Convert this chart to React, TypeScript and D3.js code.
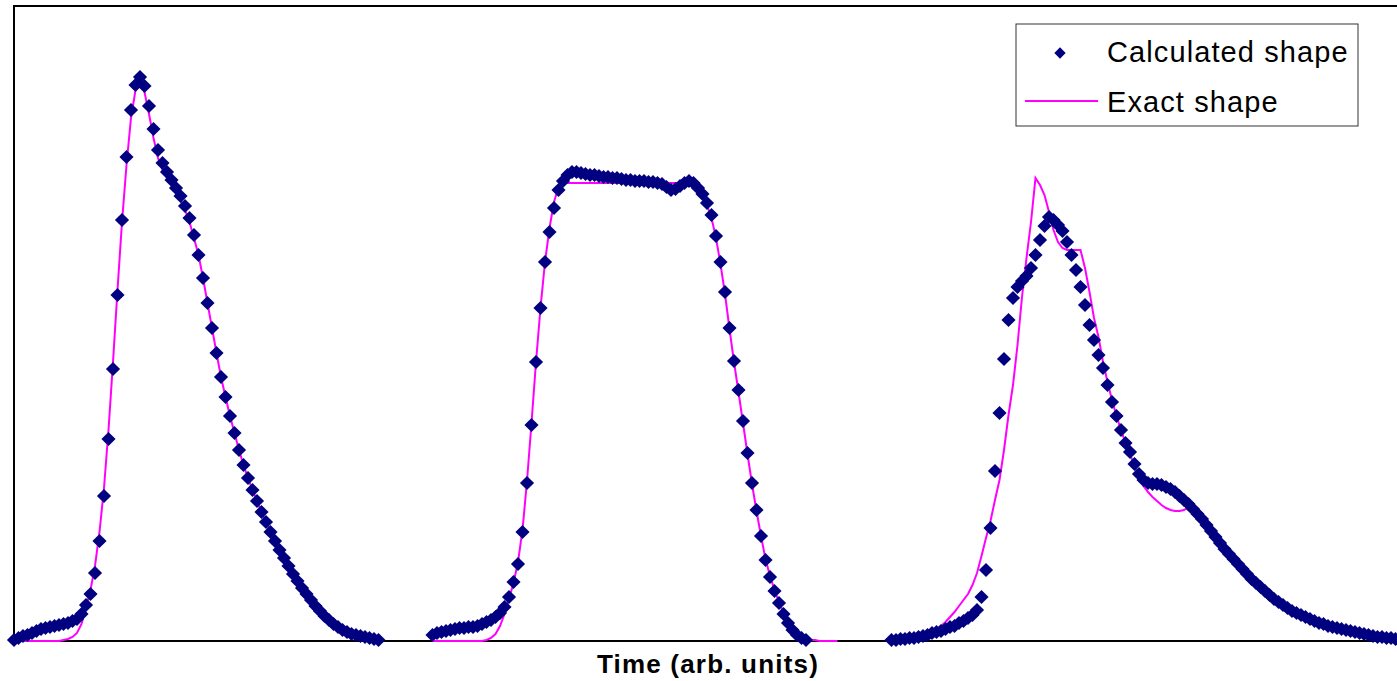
import React, { useEffect, useRef } from 'react';
import * as d3 from 'd3';

// sample index = time (arb. units); pulses separated by empty samples
const calc1Start = 0;
const calc1 = [
  0.01, 0.03, 0.05, 0.06, 0.08, 0.10, 0.12, 0.13, 0.14, 0.15, 0.16, 0.17, 0.18, 0.20, 0.22, 0.27,
  0.36, 0.47, 0.68, 1.00, 1.45, 2.02, 2.72, 3.46, 4.21, 4.84, 5.31, 5.56, 5.64, 5.55, 5.35, 5.12,
  4.91, 4.78, 4.69, 4.61, 4.53, 4.45, 4.35, 4.23, 4.06, 3.86, 3.63, 3.38, 3.13, 2.88, 2.64, 2.44,
  2.25, 2.08, 1.91, 1.76, 1.63, 1.51, 1.40, 1.29, 1.19, 1.09, 1.00, 0.91, 0.83, 0.75, 0.67, 0.60,
  0.53, 0.47, 0.41, 0.35, 0.30, 0.25, 0.21, 0.17, 0.14, 0.11, 0.09, 0.07, 0.06, 0.05, 0.04, 0.03,
  0.02, 0.01,
];
const exact1Start = 0;
const exact1 = [
  0, 0, 0, 0, 0, 0, 0, 0, 0, 0, 0, 0.01, 0.02, 0.04, 0.08, 0.17,
  0.33, 0.51, 0.75, 1.09, 1.53, 2.11, 2.79, 3.51, 4.19, 4.76, 5.23, 5.51, 5.59, 5.49, 5.27, 5.03,
  4.83, 4.71, 4.63, 4.56, 4.49, 4.41, 4.31, 4.19, 4.03, 3.86, 3.63, 3.38, 3.13, 2.88, 2.64, 2.44,
  2.25, 2.08, 1.91, 1.76, 1.63, 1.51, 1.40, 1.29, 1.19, 1.09, 1.00, 0.91, 0.83, 0.75, 0.67, 0.60,
  0.53, 0.47, 0.41, 0.35, 0.30, 0.25, 0.21, 0.17, 0.12, 0.09, 0.07, 0.05, 0.04, 0.03, 0.02, 0.01,
  0, 0,
];

const calc2Start = 93;
const calc2 = [
  0.06, 0.08, 0.09, 0.10, 0.11, 0.12, 0.13, 0.13, 0.14, 0.14, 0.15, 0.17, 0.19, 0.21, 0.24, 0.28,
  0.34, 0.44, 0.59, 0.77, 1.09, 1.58, 2.16, 2.79, 3.33, 3.79, 4.09, 4.33, 4.51, 4.60, 4.66, 4.69,
  4.69, 4.68, 4.67, 4.66, 4.66, 4.65, 4.64, 4.64, 4.63, 4.63, 4.62, 4.61, 4.61, 4.60, 4.60, 4.60,
  4.59, 4.59, 4.58, 4.57, 4.54, 4.51, 4.52, 4.55, 4.58, 4.60, 4.58, 4.53, 4.47, 4.38, 4.26, 4.05,
  3.79, 3.49, 3.13, 2.80, 2.51, 2.20, 1.88, 1.58, 1.31, 1.05, 0.81, 0.64, 0.50, 0.38, 0.27, 0.18,
  0.11, 0.06, 0.03, 0.01,
];
const exact2Start = 93;
const exact2 = [
  0, 0, 0, 0, 0, 0, 0, 0, 0, 0, 0, 0,
  0.01, 0.03, 0.07, 0.15, 0.27, 0.42, 0.58, 0.79, 1.11, 1.60, 2.18, 2.79, 3.33, 3.79, 4.13, 4.39, 4.54,
  4.58, 4.58, 4.58, 4.58, 4.58, 4.58, 4.58, 4.58, 4.58, 4.58, 4.58, 4.58, 4.58, 4.58, 4.58,
  4.58, 4.58, 4.58, 4.58, 4.58, 4.58, 4.58, 4.58, 4.58, 4.58, 4.58, 4.58, 4.58, 4.58, 4.58,
  4.55, 4.47, 4.36, 4.23, 4.03, 3.77, 3.47, 3.12, 2.79, 2.49, 2.18, 1.87, 1.57, 1.30, 1.05, 0.82,
  0.65, 0.51, 0.39, 0.28, 0.19, 0.12, 0.07, 0.04, 0.02, 0.01, 0.01,
  0, 0, 0, 0, 0,
];

const calc3Start = 195;
const calc3 = [
  0.01, 0.01, 0.02, 0.02, 0.03, 0.03, 0.04, 0.05, 0.06, 0.08, 0.09, 0.10, 0.12, 0.14, 0.15, 0.18,
  0.20, 0.23, 0.26, 0.31, 0.44, 0.71, 1.13, 1.70, 2.28, 2.82, 3.21, 3.43, 3.54, 3.60, 3.65, 3.73,
  3.86, 4.01, 4.15, 4.24, 4.21, 4.16, 4.10, 3.99, 3.86, 3.71, 3.54, 3.36, 3.16, 3.01, 2.86, 2.73,
  2.56, 2.39, 2.25, 2.11, 1.98, 1.89, 1.77, 1.67, 1.61, 1.58, 1.57, 1.57, 1.56, 1.54, 1.52, 1.49,
  1.45, 1.41, 1.37, 1.32, 1.27, 1.22, 1.16, 1.10, 1.04, 0.98, 0.92, 0.87, 0.82, 0.77, 0.72, 0.67,
  0.62, 0.58, 0.54, 0.50, 0.46, 0.42, 0.39, 0.36, 0.33, 0.30, 0.28, 0.26, 0.24, 0.22, 0.20, 0.18,
  0.17, 0.15, 0.14, 0.13, 0.12, 0.11, 0.10, 0.09, 0.08, 0.07, 0.06, 0.05, 0.04, 0.04, 0.03, 0.03,
  0.02, 0.02,
];
const exact3Start = 195;
const exact3 = [
  0, 0, 0, 0, 0,
  0.01, 0.03, 0.05, 0.07, 0.10, 0.12, 0.15, 0.19, 0.24, 0.29, 0.35, 0.41, 0.47, 0.56, 0.68, 0.85,
  1.03, 1.20, 1.41, 1.61, 1.91, 2.26, 2.56, 2.96, 3.44, 3.83, 4.19, 4.63, 4.56, 4.46, 4.29, 4.11,
  3.99, 3.93, 3.91, 3.91, 3.91, 3.91, 3.73, 3.49, 3.23, 3.04, 2.79, 2.59, 2.41, 2.25, 2.11, 1.98,
  1.87, 1.75, 1.64, 1.55, 1.49, 1.44, 1.40, 1.36, 1.33, 1.31, 1.30, 1.30, 1.31, 1.34,
  1.32, 1.27, 1.22, 1.16, 1.10, 1.04, 0.98, 0.92, 0.87, 0.82, 0.77, 0.72, 0.67, 0.62, 0.58, 0.54,
  0.50, 0.46, 0.42, 0.39, 0.36, 0.33, 0.30, 0.28, 0.26, 0.24, 0.22, 0.20, 0.18, 0.17, 0.15, 0.14,
  0.13, 0.12, 0.11, 0.10, 0.09, 0.08, 0.07, 0.06, 0.05, 0.04, 0.04, 0.03, 0.03, 0.02, 0.02,
];

const lastSample = 308;
const maxAmplitude = 6.35;
const xTitle = 'Time (arb. units)';
const legendLabels = ['Calculated shape', 'Exact shape'];

type Pt = [number, number];
const toPoints = (start: number, vals: number[]): Pt[] => vals.map((v, j) => [start + j, v]);

const App = () => {
  const svgRef = useRef<SVGSVGElement>(null);
  const width = 1397;
  const height = 681;
  const margin = { top: 6, left: 14, bottom: 40 };
  const plotRight = 1400;

  useEffect(() => {
    const svg = d3.select(svgRef.current);
    svg.selectAll('*').remove();

    const x = d3.scaleLinear().domain([0, lastSample]).range([margin.left, plotRight]);
    const y = d3.scaleLinear().domain([0, maxAmplitude]).range([height - margin.bottom, margin.top]);

    // plot frame
    svg.append('rect')
      .attr('x', margin.left)
      .attr('y', margin.top)
      .attr('width', plotRight - margin.left + 10)
      .attr('height', height - margin.bottom - margin.top)
      .attr('fill', 'white')
      .attr('stroke', '#000')
      .attr('stroke-width', 2);

    const exactSeries = [toPoints(exact1Start, exact1), toPoints(exact2Start, exact2), toPoints(exact3Start, exact3)];
    const calcPoints = [
      ...toPoints(calc1Start, calc1),
      ...toPoints(calc2Start, calc2),
      ...toPoints(calc3Start, calc3),
    ];

    const line = d3.line<Pt>().x(d => x(d[0])).y(d => y(d[1]));

    svg.append('g')
      .selectAll('path')
      .data(exactSeries)
      .join('path')
      .attr('d', d => line(d))
      .attr('fill', 'none')
      .attr('stroke', '#ff00ff')
      .attr('stroke-width', 2);

    const diamond = d3.symbol().type(d3.symbolSquare).size(100)();

    svg.append('g')
      .selectAll('path')
      .data(calcPoints)
      .join('path')
      .attr('d', diamond)
      .attr('transform', d => `translate(${x(d[0])},${y(d[1])}) rotate(45)`)
      .attr('fill', '#000080');

    // legend
    const lg = svg.append('g').attr('transform', 'translate(1016,24)');
    lg.append('rect')
      .attr('width', 342)
      .attr('height', 102)
      .attr('fill', 'white')
      .attr('stroke', '#333')
      .attr('stroke-width', 1);
    lg.append('path')
      .attr('d', d3.symbol().type(d3.symbolSquare).size(64)())
      .attr('transform', 'translate(44,29) rotate(45)')
      .attr('fill', '#000080');
    lg.append('line')
      .attr('x1', 9).attr('x2', 82)
      .attr('y1', 77).attr('y2', 77)
      .attr('stroke', '#ff00ff')
      .attr('stroke-width', 2);
    lg.selectAll('text')
      .data(legendLabels)
      .join('text')
      .attr('x', 91)
      .attr('y', (_, i) => 38 + i * 50)
      .attr('font-family', 'Liberation Sans, Arial, sans-serif')
      .attr('font-size', 29)
      .attr('letter-spacing', 1.1)
      .attr('fill', '#000')
      .text(d => d);

    svg.append('text')
      .attr('x', 708)
      .attr('y', 673)
      .attr('text-anchor', 'middle')
      .attr('font-family', 'Liberation Sans, Arial, sans-serif')
      .attr('font-weight', 'bold')
      .attr('font-size', 26)
      .attr('letter-spacing', 1.2)
      .attr('fill', '#000')
      .text(xTitle);
  }, []);

  return (
    <svg
      ref={svgRef}
      width={width}
      height={height}
      style={{ position: 'absolute', left: 0, top: 0, background: 'white' }}
    />
  );
};

export default App;
